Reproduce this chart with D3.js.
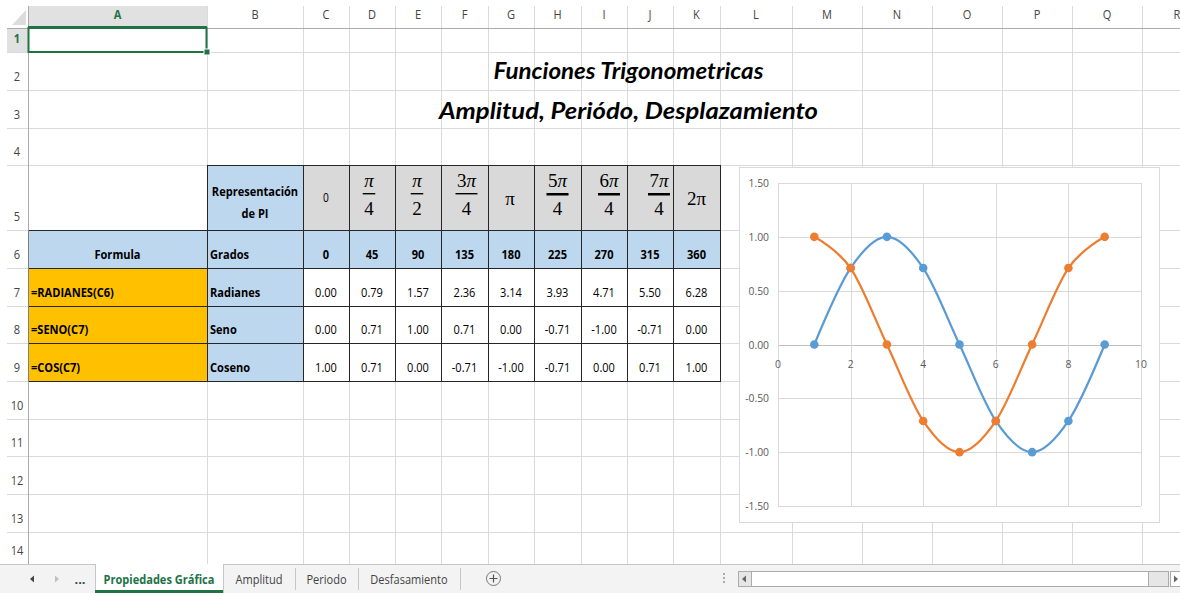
<!DOCTYPE html>
<html>
<head>
<meta charset="utf-8">
<script src="https://cdn.jsdelivr.net/npm/d3@7"></script>
<style>
  html, body { margin: 0; padding: 0; background: #fff; overflow: hidden; }
  svg { display: block; }
  text { font-family: "Open Sans", "DejaVu Sans", sans-serif; }
  text.serif { font-family: "Liberation Serif", "DejaVu Serif", serif; }
  text.title { font-family: "Lato", "DejaVu Sans", sans-serif; font-style: italic; }
</style>
</head>
<body>
<svg id="sheet" width="1180" height="593"></svg>
<script>
// ---- sheet content ----
const columnLetters = ['A','B','C','D','E','F','G','H','I','J','K','L','M','N','O','P','Q','R'];
const rowNumbers = [1,2,3,4,5,6,7,8,9,10,11,12,13,14];
const titleLines = ['Funciones Trigonometricas', 'Amplitud, Periódo, Desplazamiento'];
const piNumerators   = ['0','π','π','3π','π','5π','6π','7π','2π'];
const piDenominators = ['', '4','2','4', '', '4', '4', '4', ''];
const grados   = [0, 45, 90, 135, 180, 225, 270, 315, 360];
const radianes = [0.00, 0.79, 1.57, 2.36, 3.14, 3.93, 4.71, 5.50, 6.28];
const seno     = [0.00, 0.71, 1.00, 0.71, 0.00, -0.71, -1.00, -0.71, 0.00];
const coseno   = [1.00, 0.71, 0.00, -0.71, -1.00, -0.71, 0.00, 0.71, 1.00];
const formulas = ['=RADIANES(C6)', '=SENO(C7)', '=COS(C7)'];
const rowNames = ['Radianes', 'Seno', 'Coseno'];
const sheetTabs = ['Propiedades Gráfica', 'Amplitud', 'Periodo', 'Desfasamiento'];

// ---- chart content ----
const puntos = [1, 2, 3, 4, 5, 6, 7, 8, 9];
const yTicks = [1.5, 1.0, 0.5, 0.0, -0.5, -1.0, -1.5];
const xTicks = [0, 2, 4, 6, 8, 10];

// ---- grid geometry ----
const colEdges = [28, 207, 303, 349, 395, 441, 488, 534, 581, 627, 673, 720, 792, 862, 932, 1002, 1072, 1142, 1212];
const rowEdges = [28, 52, 90, 128, 165, 230, 268, 306, 343, 381, 419, 456, 494, 532, 564];
const headerTop = 6, tabTop = 564;
const GREEN = '#217346', GRID = '#dadada', BORDER = '#262626';

const svg = d3.select('#sheet');
const colX = i => colEdges[i];
const colW = i => colEdges[i + 1] - colEdges[i];
const colC = i => (colEdges[i] + colEdges[i + 1]) / 2;
const rowY = r => rowEdges[r - 1];
const rowB = r => rowEdges[r];

// narrows rendered text to a Calibri-like width
function condense(sel, k) {
  sel.each(function () {
    const w = this.getComputedTextLength();
    if (w > 0) d3.select(this).attr('textLength', w * k).attr('lengthAdjust', 'spacingAndGlyphs');
  });
  return sel;
}
const fmt2 = d3.formatLocale({ decimal: '.', thousands: ',', grouping: [3], currency: ['', ''], minus: '-' }).format('.2f');

svg.append('rect').attr('width', 1180).attr('height', 593).attr('fill', '#fff');

// ---- headers ----
const head = svg.append('g');
head.append('rect').attr('x', colX(0)).attr('y', headerTop).attr('width', colW(0)).attr('height', 28 - headerTop).attr('fill', '#e1e1e1');
head.append('rect').attr('x', 7).attr('y', rowY(1)).attr('width', 21).attr('height', rowB(1) - rowY(1)).attr('fill', '#e1e1e1');
head.append('path').attr('d', 'M26,10 L26,25 L12,25 Z').attr('fill', '#dcdcdc');

// gridlines
const grid = svg.append('g').attr('stroke', GRID).attr('stroke-width', 1).attr('shape-rendering', 'crispEdges');
grid.selectAll('line.v').data(colEdges.slice(1)).join('line')
  .attr('x1', d => d + 0.5).attr('x2', d => d + 0.5).attr('y1', headerTop).attr('y2', tabTop);
grid.selectAll('line.h').data(rowEdges.slice(1)).join('line')
  .attr('x1', 7).attr('x2', 1180).attr('y1', d => d + 0.5).attr('y2', d => d + 0.5);
svg.append('line').attr('x1', 7).attr('x2', 1180).attr('y1', 28.5).attr('y2', 28.5).attr('stroke', '#ababab');
svg.append('line').attr('x1', 28.5).attr('x2', 28.5).attr('y1', headerTop).attr('y2', tabTop).attr('stroke', '#ababab');
svg.append('line').attr('x1', colX(0)).attr('x2', colX(1)).attr('y1', 27).attr('y2', 27).attr('stroke', GREEN).attr('stroke-width', 2);

condense(head.selectAll('text.col').data(columnLetters).join('text')
  .attr('x', (d, i) => colC(i)).attr('y', 19).attr('text-anchor', 'middle')
  .attr('font-size', 13).attr('fill', (d, i) => i === 0 ? GREEN : '#444')
  .attr('font-weight', (d, i) => i === 0 ? 'bold' : 'normal').text(d => d), 0.85);
condense(head.selectAll('text.row').data(rowNumbers).join('text')
  .attr('x', 17).attr('y', d => rowB(d) - 9).attr('text-anchor', 'middle')
  .attr('font-size', 13).attr('fill', d => d === 1 ? GREEN : '#444')
  .attr('font-weight', d => d === 1 ? 'bold' : 'normal').text(d => d), 0.85);

// ---- titles ----
const titleLen = [270, 379];
const titleBase = [79, 119];
svg.selectAll('text.title').data(titleLines).join('text').attr('class', 'title')
  .attr('x', 628.5).attr('y', (d, i) => titleBase[i]).attr('text-anchor', 'middle')
  .attr('textLength', (d, i) => titleLen[i]).attr('lengthAdjust', 'spacingAndGlyphs')
  .attr('font-weight', 'bold').attr('font-size', 23).attr('fill', '#000').text(d => d);

// ---- table fills ----
const fills = svg.append('g').attr('shape-rendering', 'crispEdges');
const cell = (c, r, color) => fills.append('rect')
  .attr('x', colX(c)).attr('y', rowY(r)).attr('width', colW(c)).attr('height', rowB(r) - rowY(r)).attr('fill', color);
cell(1, 5, '#bdd7ee');
piNumerators.forEach((d, i) => cell(i + 2, 5, '#d9d9d9'));
for (let c = 0; c <= 10; c++) cell(c, 6, '#bdd7ee');
formulas.forEach((d, i) => { cell(0, 7 + i, '#ffc000'); cell(1, 7 + i, '#bdd7ee'); });

// ---- table borders ----
const borders = svg.append('g').attr('stroke', BORDER).attr('stroke-width', 1).attr('shape-rendering', 'crispEdges');
borders.append('line').attr('x1', colX(1)).attr('x2', colX(11)).attr('y1', rowY(5) + 0.5).attr('y2', rowY(5) + 0.5);
[6, 7, 8, 9].forEach(r => borders.append('line').attr('x1', colX(0)).attr('x2', colX(11) + 1).attr('y1', rowY(r) + 0.5).attr('y2', rowY(r) + 0.5));
borders.append('line').attr('x1', colX(0)).attr('x2', colX(11) + 1).attr('y1', rowB(9) + 0.5).attr('y2', rowB(9) + 0.5);
d3.range(1, 12).forEach(c => borders.append('line').attr('x1', colX(c) + 0.5).attr('x2', colX(c) + 0.5).attr('y1', rowY(5)).attr('y2', rowB(9) + 1));
borders.append('line').attr('x1', colX(0) + 0.5).attr('x2', colX(0) + 0.5).attr('y1', rowY(6)).attr('y2', rowB(9) + 1).attr('stroke', '#7f7f7f');

// ---- table text ----
const txt = svg.append('g').attr('fill', '#000').attr('font-size', 13);
const K = 0.85;
condense(txt.append('text').attr('x', colC(1)).attr('y', 196).attr('text-anchor', 'middle').attr('font-weight', 'bold').text('Representación'), K);
condense(txt.append('text').attr('x', colC(1)).attr('y', 218).attr('text-anchor', 'middle').attr('font-weight', 'bold').text('de PI'), K);

// pi representations in row 5 (fractions use an italic π, plain entries an upright one)
const fracShift = [0, -3, -1, 2, -1, 0, 5, 9, 0];
piNumerators.forEach((num, i) => {
  const cx = colC(i + 2) + fracShift[i];
  const den = piDenominators[i];
  if (num === '0') {
    condense(txt.append('text').attr('x', cx).attr('y', 202).attr('text-anchor', 'middle').attr('font-size', 12).text(num), K);
    return;
  }
  if (!den) {
    txt.append('text').attr('class', 'serif').attr('font-size', 19).attr('x', cx).attr('y', 205).attr('text-anchor', 'middle').text(num);
    return;
  }
  const t = txt.append('text').attr('class', 'serif').attr('font-size', 19).attr('x', cx).attr('y', 187).attr('text-anchor', 'middle');
  const coef = num.slice(0, -1);
  if (coef) t.append('tspan').text(coef);
  t.append('tspan').attr('font-style', 'italic').text('π');
  const w = t.node().getComputedTextLength() + 3;
  txt.append('rect').attr('x', cx - w / 2).attr('y', 193).attr('width', w).attr('height', i >= 5 ? 2.5 : 1.4).attr('fill', '#000');
  txt.append('text').attr('class', 'serif').attr('font-size', 19).attr('x', cx).attr('y', 215).attr('text-anchor', 'middle').text(den);
});

// row 6 headings and degrees
condense(txt.append('text').attr('x', colC(0)).attr('y', 259).attr('text-anchor', 'middle').attr('font-weight', 'bold').text('Formula'), K);
condense(txt.append('text').attr('x', colX(1) + 3).attr('y', 259).attr('font-weight', 'bold').text('Grados'), K);
condense(txt.selectAll('text.deg').data(grados).join('text')
  .attr('x', (d, i) => colC(i + 2)).attr('y', 259).attr('text-anchor', 'middle').attr('font-weight', 'bold').text(d => d), K);

// rows 7-9
[radianes, seno, coseno].forEach((vals, r) => {
  const base = rowB(7 + r) - 9;
  condense(txt.append('text').attr('x', colX(0) + 3).attr('y', base).attr('font-weight', 'bold').text(formulas[r]), K);
  condense(txt.append('text').attr('x', colX(1) + 3).attr('y', base).attr('font-weight', 'bold').text(rowNames[r]), K);
  condense(txt.selectAll(null).data(vals).join('text')
    .attr('x', (d, i) => colC(i + 2)).attr('y', base).attr('text-anchor', 'middle').text(d => fmt2(d)), K);
});

// ---- selection on A1 ----
svg.append('rect').attr('x', colX(0) + 0.5).attr('y', rowY(1)).attr('width', colW(0) - 1).attr('height', rowB(1) - rowY(1))
  .attr('fill', 'none').attr('stroke', GREEN).attr('stroke-width', 2);
svg.append('rect').attr('x', colX(1) - 3).attr('y', rowB(1) - 3).attr('width', 6).attr('height', 6)
  .attr('fill', GREEN).attr('stroke', '#fff').attr('stroke-width', 1);

// ---- chart ----
const chart = svg.append('g');
chart.append('rect').attr('x', 739.5).attr('y', 167.5).attr('width', 420).attr('height', 355)
  .attr('fill', '#fff').attr('stroke', '#d9d9d9');
const x = d3.scaleLinear().domain([0, 10]).range([778, 1141]);
const y = d3.scaleLinear().domain([-1.5, 1.5]).range([506, 183]);

const cg = chart.append('g').attr('shape-rendering', 'crispEdges');
cg.selectAll('line.gy').data(yTicks).join('line')
  .attr('x1', x(0)).attr('x2', x(10)).attr('y1', d => Math.round(y(d)) + 0.5).attr('y2', d => Math.round(y(d)) + 0.5)
  .attr('stroke', d => d === 0 ? '#bfbfbf' : '#d9d9d9');
cg.selectAll('line.gx').data(xTicks).join('line')
  .attr('x1', d => Math.round(x(d)) + 0.5).attr('x2', d => Math.round(x(d)) + 0.5).attr('y1', y(1.5)).attr('y2', y(-1.5))
  .attr('stroke', '#d9d9d9');

const lab = chart.append('g').attr('fill', '#595959').attr('font-size', 11.5);
condense(lab.selectAll('text.yl').data(yTicks).join('text')
  .attr('x', 769).attr('y', d => y(d) + 4).attr('text-anchor', 'end').text(d => fmt2(d)), 0.9);
condense(lab.selectAll('text.xl').data(xTicks).join('text')
  .attr('x', d => x(d)).attr('y', y(0) + 23).attr('text-anchor', 'middle').text(d => d), 0.9);

const line = d3.line().x((d, i) => x(puntos[i])).y(d => y(d)).curve(d3.curveCardinal.tension(0));
const series = [{ vals: seno, color: '#5b9bd5' }, { vals: coseno, color: '#ed7d31' }];
series.forEach(s => chart.append('path').attr('d', line(s.vals)).attr('fill', 'none')
  .attr('stroke', s.color).attr('stroke-width', 2.25).attr('stroke-linejoin', 'round'));
series.forEach(s => chart.append('g').selectAll('circle').data(s.vals).join('circle')
  .attr('cx', (d, i) => x(puntos[i])).attr('cy', d => y(d)).attr('r', 4.3).attr('fill', s.color));

// ---- sheet tab bar ----
const bar = svg.append('g');
bar.append('rect').attr('x', 0).attr('y', tabTop).attr('width', 1180).attr('height', 593 - tabTop).attr('fill', '#f3f3f3');
bar.append('line').attr('x1', 0).attr('x2', 1180).attr('y1', tabTop + 0.5).attr('y2', tabTop + 0.5).attr('stroke', '#c6c6c6');
const tabEdges = [95, 223, 295, 358, 460];
bar.append('rect').attr('x', tabEdges[0]).attr('y', tabTop).attr('width', tabEdges[1] - tabEdges[0]).attr('height', 593 - tabTop).attr('fill', '#fff');
bar.append('line').attr('x1', tabEdges[0] + 0.5).attr('x2', tabEdges[0] + 0.5).attr('y1', tabTop).attr('y2', 593).attr('stroke', '#c6c6c6');
bar.append('line').attr('x1', tabEdges[1] + 0.5).attr('x2', tabEdges[1] + 0.5).attr('y1', tabTop).attr('y2', 593).attr('stroke', '#c6c6c6');
bar.append('rect').attr('x', tabEdges[0]).attr('y', 590).attr('width', tabEdges[1] - tabEdges[0]).attr('height', 3).attr('fill', GREEN);
condense(bar.selectAll('text.tab').data(sheetTabs).join('text')
  .attr('x', (d, i) => (tabEdges[i] + tabEdges[i + 1]) / 2).attr('y', 584).attr('text-anchor', 'middle')
  .attr('font-size', 13).attr('font-weight', (d, i) => i === 0 ? 'bold' : 'normal')
  .attr('fill', (d, i) => i === 0 ? GREEN : '#444').text(d => d), 0.85);
bar.selectAll('line.sep').data(tabEdges.slice(2)).join('line')
  .attr('x1', d => d + 0.5).attr('x2', d => d + 0.5).attr('y1', 568).attr('y2', 590).attr('stroke', '#c6c6c6');
// navigation arrows and ellipsis
bar.append('path').attr('d', 'M30,579 L34,575.5 L34,582.5 Z').attr('fill', '#444');
bar.append('path').attr('d', 'M59,579 L55,575.5 L55,582.5 Z').attr('fill', '#c0c0c0');
bar.append('text').attr('x', 80).attr('y', 584).attr('text-anchor', 'middle').attr('font-size', 13).attr('font-weight', 'bold').attr('fill', '#444').text('...');
// new sheet button
bar.append('circle').attr('cx', 493.5).attr('cy', 578.5).attr('r', 7).attr('fill', 'none').attr('stroke', '#777');
bar.append('path').attr('d', 'M493.5,574.5 V582.5 M489.5,578.5 H497.5').attr('stroke', '#555').attr('stroke-width', 1.2);
// splitter and horizontal scroll bar
bar.selectAll('circle.dot').data([574, 578, 582]).join('circle').attr('cx', 724).attr('cy', d => d).attr('r', 0.9).attr('fill', '#888');
bar.append('rect').attr('x', 738.5).attr('y', 571.5).attr('width', 430).attr('height', 15).attr('fill', '#e6e6e6').attr('stroke', '#ababab');
bar.append('rect').attr('x', 751.5).attr('y', 571.5).attr('width', 397).attr('height', 15).attr('fill', '#fff').attr('stroke', '#ababab');
bar.append('path').attr('d', 'M742,579 L746,575.5 L746,582.5 Z').attr('fill', '#666');
bar.append('rect').attr('x', 1170.5).attr('y', 571.5).attr('width', 14).attr('height', 15).attr('fill', '#fff').attr('stroke', '#ababab');
bar.append('path').attr('d', 'M1178,579 L1174,575.5 L1174,582.5 Z').attr('fill', '#666');
</script>
</body>
</html>
